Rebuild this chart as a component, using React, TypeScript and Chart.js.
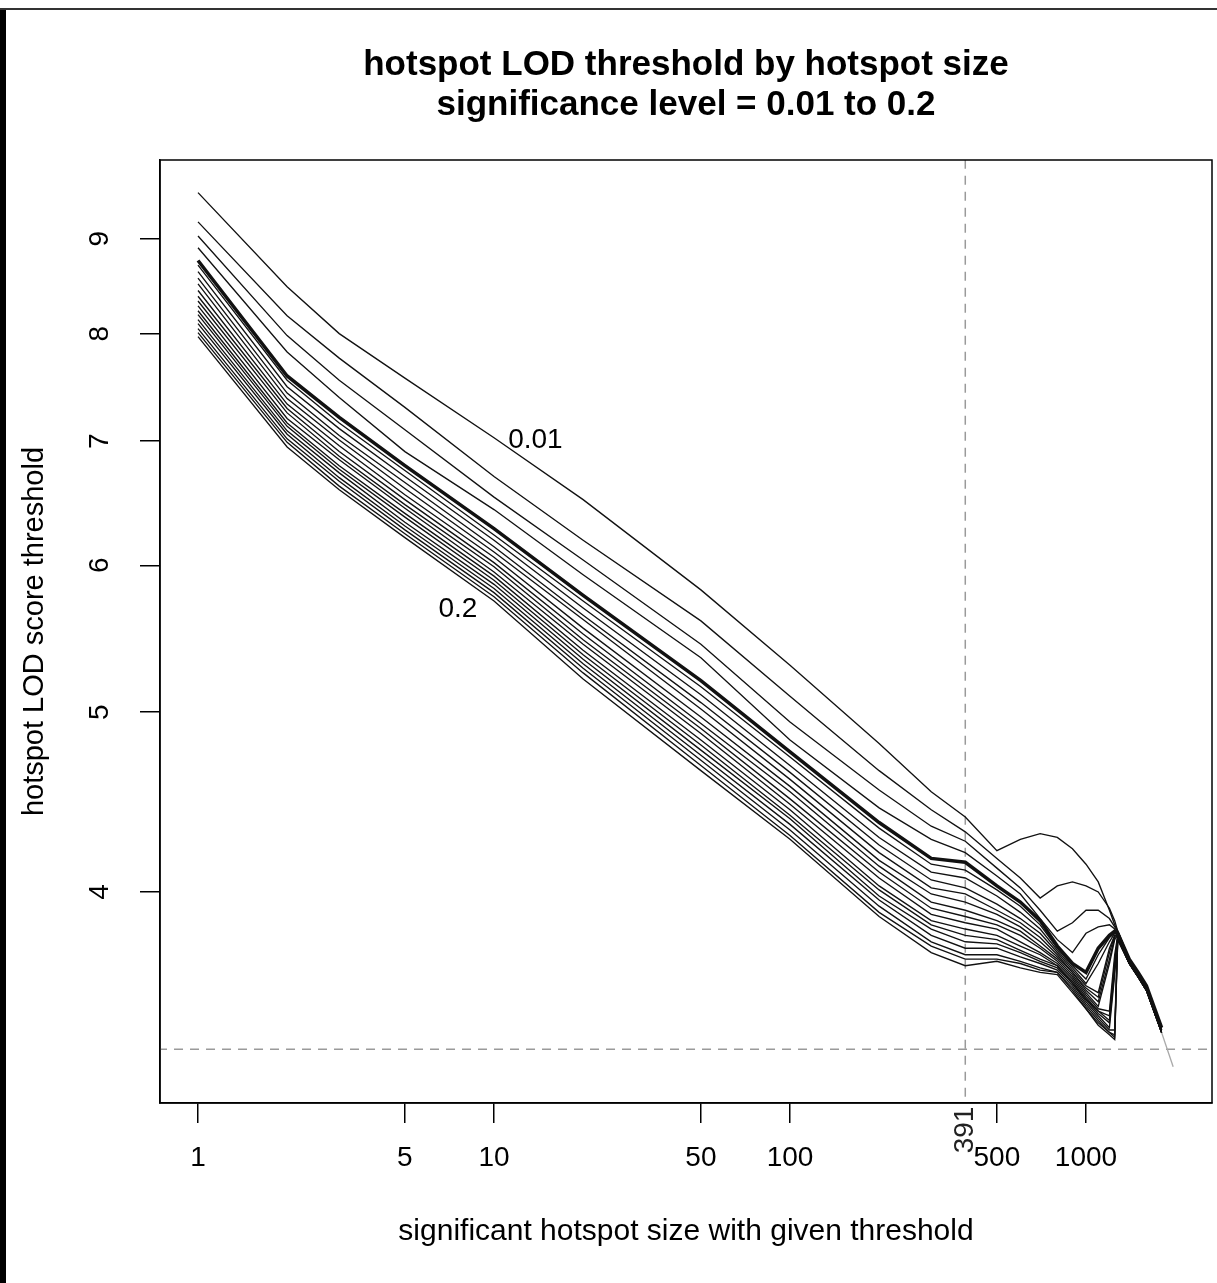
import React, { useEffect, useRef } from "react";
import { Chart, registerables } from "chart.js";

Chart.register(...registerables);

// ---------------- data ----------------
const hotspotSizes = [1, 2, 3, 5, 10, 20, 50, 100, 200, 300, 391, 500, 600, 700, 800, 900, 1000, 1100, 1200, 1250, 1280, 1400, 1500, 1600, 1800, 1970];

const significanceLevels = [0.01, 0.02, 0.03, 0.04, 0.05, 0.06, 0.07, 0.08, 0.09, 0.1, 0.11, 0.12, 0.13, 0.14, 0.15, 0.16, 0.17, 0.18, 0.19, 0.2];

const lod001 = [9.53, 8.48, 8.0, 7.57, 7.03, 6.51, 5.82, 5.3, 4.81, 4.53, 4.39, 4.21, 4.27, 4.3, 4.28, 4.22, 4.14, 4.05, 3.91, 3.84, 3.81, 3.68, 3.62, 3.56, 3.38, null];
const lod002 = [9.19, 8.18, 7.76, 7.3, 6.7, 6.19, 5.6, 5.1, 4.65, 4.43, 4.31, 4.17, 4.07, 3.97, 4.03, 4.05, 4.03, 4.0, 3.92, 3.86, 3.81, 3.68, 3.62, 3.56, 3.38, null];
const lod003 = [9.03, 7.98, 7.55, 7.1, 6.53, 6.04, 5.44, 4.94, 4.54, 4.34, 4.26, 4.12, 4.02, 3.91, 3.81, 3.85, 3.91, 3.91, 3.87, 3.83, 3.81, 3.68, 3.62, 3.56, 3.38, null];
const lod004 = [8.9, 7.82, 7.39, 6.91, 6.43, 5.93, 5.35, 4.83, 4.44, 4.27, 4.2, 4.08, 3.99, 3.87, 3.77, 3.71, 3.8, 3.83, 3.84, 3.82, 3.8, 3.68, 3.62, 3.56, 3.38, null];
const lod005 = [8.76, 7.59, 7.21, 6.79, 6.28, 5.78, 5.2, 4.76, 4.36, 4.17, 4.15, 4.03, 3.95, 3.86, 3.74, 3.66, 3.62, 3.73, 3.79, 3.81, 3.8, 3.68, 3.62, 3.56, 3.38, null];
const lod006 = [8.71, 7.55, 7.16, 6.75, 6.23, 5.74, 5.16, 4.73, 4.33, 4.14, 4.11, 4.01, 3.93, 3.84, 3.73, 3.65, 3.59, 3.7, 3.78, 3.8, 3.8, 3.67, 3.61, 3.55, 3.37, null];
const lod007 = [8.64, 7.49, 7.11, 6.7, 6.19, 5.69, 5.11, 4.68, 4.28, 4.1, 4.07, 3.98, 3.9, 3.82, 3.72, 3.64, 3.57, 3.66, 3.76, 3.8, 3.79, 3.67, 3.61, 3.55, 3.37, null];
const lod008 = [8.57, 7.43, 7.05, 6.65, 6.14, 5.64, 5.06, 4.64, 4.24, 4.06, 4.02, 3.94, 3.87, 3.8, 3.71, 3.63, 3.56, 3.53, 3.73, 3.79, 3.79, 3.67, 3.61, 3.55, 3.37, null];
const lod009 = [8.51, 7.38, 7.01, 6.6, 6.1, 5.61, 5.02, 4.6, 4.2, 4.02, 3.99, 3.91, 3.85, 3.78, 3.7, 3.62, 3.55, 3.51, 3.71, 3.79, 3.79, 3.67, 3.61, 3.55, 3.37, null];
const lod010 = [8.44, 7.33, 6.96, 6.55, 6.06, 5.55, 4.97, 4.56, 4.16, 3.99, 3.95, 3.89, 3.83, 3.76, 3.69, 3.62, 3.54, 3.49, 3.68, 3.78, 3.79, 3.67, 3.61, 3.55, 3.37, null];
const lod011 = [8.38, 7.29, 6.91, 6.51, 6.02, 5.51, 4.93, 4.53, 4.13, 3.95, 3.91, 3.86, 3.81, 3.74, 3.68, 3.61, 3.53, 3.47, 3.66, 3.77, 3.79, 3.67, 3.61, 3.55, 3.37, null];
const lod012 = [8.33, 7.25, 6.87, 6.47, 5.99, 5.47, 4.9, 4.49, 4.1, 3.92, 3.88, 3.84, 3.79, 3.73, 3.67, 3.6, 3.52, 3.46, 3.45, 3.7, 3.79, 3.67, 3.61, 3.55, 3.37, null];
const lod013 = [8.28, 7.2, 6.84, 6.44, 5.95, 5.44, 4.87, 4.46, 4.07, 3.89, 3.85, 3.82, 3.76, 3.71, 3.66, 3.59, 3.51, 3.45, 3.43, 3.67, 3.78, 3.66, 3.6, 3.54, 3.36, null];
const lod014 = [8.23, 7.16, 6.79, 6.4, 5.92, 5.4, 4.83, 4.43, 4.03, 3.86, 3.82, 3.79, 3.74, 3.7, 3.65, 3.58, 3.5, 3.45, 3.41, 3.65, 3.78, 3.66, 3.6, 3.54, 3.36, null];
const lod015 = [8.19, 7.13, 6.76, 6.37, 5.89, 5.37, 4.8, 4.4, 4.01, 3.84, 3.79, 3.77, 3.72, 3.68, 3.65, 3.57, 3.5, 3.44, 3.4, 3.63, 3.78, 3.66, 3.6, 3.54, 3.36, null];
const lod016 = [8.14, 7.09, 6.73, 6.33, 5.86, 5.34, 4.77, 4.38, 3.98, 3.82, 3.76, 3.75, 3.71, 3.67, 3.64, 3.57, 3.49, 3.43, 3.38, 3.61, 3.78, 3.66, 3.6, 3.54, 3.36, null];
const lod017 = [8.1, 7.06, 6.69, 6.3, 5.83, 5.31, 4.74, 4.35, 3.96, 3.79, 3.73, 3.73, 3.69, 3.66, 3.63, 3.56, 3.48, 3.42, 3.37, 3.37, 3.78, 3.66, 3.6, 3.54, 3.36, null];
const lod018 = [8.05, 7.02, 6.66, 6.27, 5.8, 5.28, 4.71, 4.32, 3.93, 3.76, 3.7, 3.7, 3.67, 3.64, 3.62, 3.55, 3.47, 3.41, 3.36, 3.35, 3.78, 3.66, 3.6, 3.54, 3.36, null];
const lod019 = [8.01, 6.99, 6.62, 6.24, 5.77, 5.25, 4.68, 4.29, 3.9, 3.74, 3.68, 3.68, 3.66, 3.63, 3.62, 3.54, 3.46, 3.4, 3.36, 3.34, 3.77, 3.66, 3.6, 3.54, 3.36, null];
const lod020 = [7.97, 6.95, 6.59, 6.21, 5.74, 5.21, 4.65, 4.27, 3.88, 3.71, 3.65, 3.67, 3.64, 3.62, 3.61, 3.53, 3.46, 3.39, 3.35, 3.33, 3.77, 3.66, 3.6, 3.54, 3.36, 3.22];

const seriesValues = [lod001, lod002, lod003, lod004, lod005, lod006, lod007, lod008, lod009, lod010, lod011, lod012, lod013, lod014, lod015, lod016, lod017, lod018, lod019, lod020];

const boldLevel = 0.05;
const xTicks = [1, 5, 10, 50, 100, 500, 1000];
const yTicks = [4, 5, 6, 7, 8, 9];
const cutoffSize = 391;
const cutoffLod = 3.29;
const curveLabels = [
  { text: "0.01", x: 13.8, y: 7.01 },
  { text: "0.2", x: 7.55, y: 5.68 },
];
const xRange = [0.744, 2665];
const yRange = [3.078, 9.924];

const titleLines = ["hotspot LOD threshold by hotspot size", "significance level = 0.01 to 0.2"];
const xTitle = "significant hotspot size with given threshold";
const yTitle = "hotspot LOD score threshold";

// ---------------- styling ----------------
const FONT = "'Liberation Sans', Arial, Helvetica, sans-serif";

const decorPlugin = {
  id: "decor",
  beforeDraw(chart: any) {
    const ctx = chart.ctx;
    ctx.save();
    ctx.fillStyle = "#ffffff";
    ctx.fillRect(0, 0, chart.width, chart.height);
    ctx.fillStyle = "#000000";
    ctx.fillRect(0, 8, 6, chart.height - 8);
    ctx.fillStyle = "#333333";
    ctx.fillRect(0, 8, chart.width, 2);
    ctx.restore();
  },
  afterDraw(chart: any) {
    const { ctx, chartArea: a, scales } = chart;
    const x = scales.x;
    const y = scales.y;
    ctx.save();
    ctx.strokeStyle = "#000";
    ctx.lineWidth = 1.5;
    ctx.strokeRect(a.left, a.top, a.right - a.left, a.bottom - a.top);
    ctx.fillStyle = "#000";
    ctx.font = `28px ${FONT}`;
    ctx.textAlign = "center";
    ctx.textBaseline = "middle";
    for (const l of curveLabels) {
      ctx.fillText(l.text, x.getPixelForValue(l.x), y.getPixelForValue(l.y));
    }
    const px = x.getPixelForValue(cutoffSize);
    ctx.translate(px, a.bottom + 27);
    ctx.rotate(-Math.PI / 2);
    ctx.fillStyle = "#222";
    ctx.fillText(String(cutoffSize), 0, 0);
    ctx.restore();
  },
};

export default function App() {
  const ref = useRef<HTMLCanvasElement>(null);

  useEffect(() => {
    if (!ref.current) return;
    const lastIdx = hotspotSizes.length - 1;
    const curveSets = significanceLevels.map((lvl, i) => ({
      label: String(lvl),
      data: hotspotSizes.map((n, j) => ({ x: n, y: seriesValues[i][j] })),
      borderColor: "#111",
      borderWidth: lvl === boldLevel ? 3.5 : 1.35,
      pointRadius: 0,
      spanGaps: false,
      tension: 0,
      segment:
        i === seriesValues.length - 1
          ? { borderColor: (c: any) => (c.p1DataIndex === lastIdx ? "#aaaaaa" : undefined) }
          : undefined,
    }));
    const refSets = [
      {
        label: "size cutoff",
        data: [
          { x: cutoffSize, y: 1 },
          { x: cutoffSize, y: 20 },
        ],
        borderColor: "#9a9a9a",
        borderWidth: 1.5,
        borderDash: [9, 7],
        pointRadius: 0,
      },
      {
        label: "lod cutoff",
        data: [
          { x: 0.1, y: cutoffLod },
          { x: 100000, y: cutoffLod },
        ],
        borderColor: "#9a9a9a",
        borderWidth: 1.5,
        borderDash: [9, 7],
        pointRadius: 0,
      },
    ];

    const tickGrid = {
      display: true,
      drawOnChartArea: false,
      drawTicks: true,
      tickLength: 20,
      color: "#000",
      lineWidth: 1.5,
    };

    const chart = new Chart(ref.current, {
      type: "line",
      data: { datasets: [...curveSets, ...refSets] as any },
      plugins: [decorPlugin],
      options: {
        animation: false,
        responsive: false,
        maintainAspectRatio: false,
        devicePixelRatio: 1,
        layout: { padding: { left: 0, right: 5, top: 0, bottom: 0 } },
        plugins: {
          legend: { display: false },
          tooltip: { enabled: false },
          title: {
            display: true,
            fullSize: false,
            text: titleLines,
            color: "#000",
            font: { size: 35, weight: "bold", family: FONT, lineHeight: 40 / 35 },
            padding: { top: 45, bottom: 35 },
          },
        },
        scales: {
          x: {
            type: "logarithmic",
            bounds: "data",
            min: xRange[0],
            max: xRange[1],
            afterBuildTicks: (s: any) => {
              s.ticks = xTicks.map((v) => ({ value: v }));
              s.min = xRange[0];
              s.max = xRange[1];
            },
            afterFit: (s: any) => {
              s.height = 180;
            },
            grid: tickGrid,
            border: { display: true, color: "#000", width: 1.5 },
            ticks: {
              autoSkip: false,
              minRotation: 0,
              maxRotation: 0,
              padding: 18,
              color: "#000",
              font: { size: 28, family: FONT },
              callback: (v: any) => String(v),
            },
            title: {
              display: true,
              text: xTitle,
              color: "#000",
              font: { size: 30, family: FONT },
              padding: { top: 0, bottom: 33 },
            },
          },
          y: {
            type: "logarithmic",
            bounds: "data",
            min: yRange[0],
            max: yRange[1],
            afterBuildTicks: (s: any) => {
              s.ticks = yTicks.map((v) => ({ value: v }));
              s.min = yRange[0];
              s.max = yRange[1];
            },
            afterFit: (s: any) => {
              s.width = 160;
            },
            grid: tickGrid,
            border: { display: true, color: "#000", width: 1.5 },
            ticks: {
              autoSkip: false,
              minRotation: 90,
              maxRotation: 90,
              crossAlign: "center",
              padding: 32,
              color: "#000",
              font: { size: 28, family: FONT },
              callback: (v: any) => String(v),
            },
            title: {
              display: true,
              text: yTitle,
              color: "#000",
              font: { size: 29, family: FONT },
              padding: { top: 18, bottom: 0 },
            },
          },
        },
      } as any,
    });
    return () => chart.destroy();
  }, []);

  return (
    <div style={{ position: "absolute", left: 0, top: 0, width: 1217, height: 1283, background: "#fff" }}>
      <canvas ref={ref} width={1217} height={1283} style={{ display: "block", width: 1217, height: 1283 }} />
    </div>
  );
}
